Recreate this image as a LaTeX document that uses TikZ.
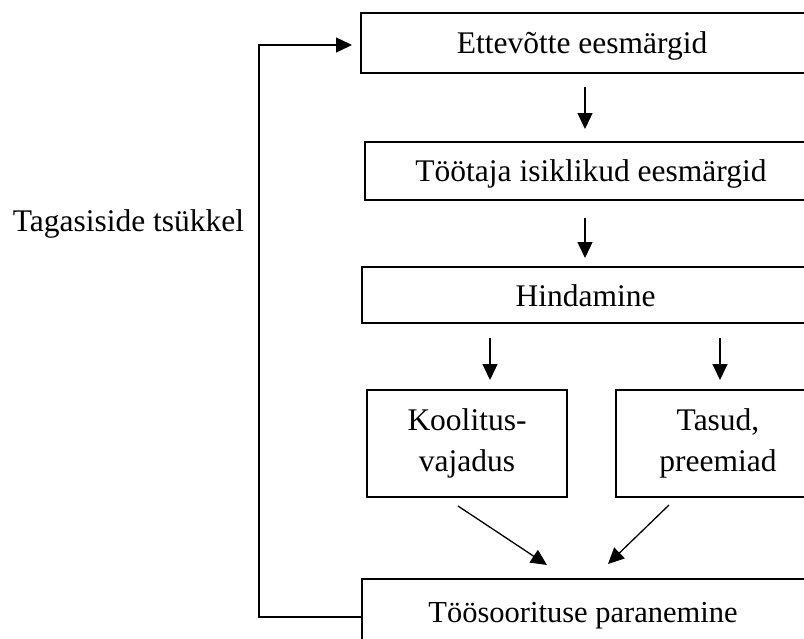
\documentclass[tikz,border=0pt]{standalone}
\usepackage{fontspec}
\setmainfont{Liberation Serif}
\usetikzlibrary{arrows.meta,calc}
\begin{document}
\begin{tikzpicture}[x=1pt,y=-1pt,
  box/.style={draw, line width=2pt, rectangle, inner sep=0pt},
  txt/.style={font=\fontsize{31.5}{41.5}\selectfont, inner sep=0pt, anchor=base},
  twoline/.style={font=\fontsize{31.5}{41.5}\selectfont, align=center},
  arr/.style={line width=1.3pt, -{Triangle[length=16pt,width=15pt]}},
  fbline/.style={line width=1.5pt, -{Triangle[length=16pt,width=15pt]}}]
\clip (0,0) rectangle (804,638);
% boxes
\node[box, minimum width=469pt, minimum height=60pt] (b1) at (595.5,43) {};
\node[box, minimum width=465pt, minimum height=58pt] (b2) at (597.5,171) {};
\node[box, minimum width=468pt, minimum height=56pt] (b3) at (596,295) {};
\node[box, twoline, minimum width=200pt, minimum height=107pt] (b4) at (467,443.5) {Koolitus-\\vajadus};
\node[box, twoline, minimum width=204pt, minimum height=107pt] (b5) at (718,443.5) {Tasud,\\preemiad};
\node[box, minimum width=468pt, minimum height=76pt] (b6) at (596,617) {};
% texts
\node[txt] (t1) at (582,53.3) {Ettevõtte eesmärgid};
\node[txt] (t2) at (591,181) {Töötaja isiklikud eesmärgid};
\node[txt] (t3) at (585.5,306) {Hindamine};
\node[txt, font=\fontsize{30.5}{36}\selectfont] (t6) at (583,622.7) {Töösoorituse paranemine};
\node[txt] (tl) at (128.5,231.7) {Tagasiside tsükkel};
% vertical arrows
\coordinate (cx1) at (585,0);
\coordinate (cx2) at (490,0);
\coordinate (cx3) at (720,0);
\draw[arr, shorten <=13pt, shorten >=12pt] (b1.south -| cx1) -- (b2.north -| cx1);
\draw[arr, shorten <=17pt, shorten >=8pt] (b2.south -| cx1) -- (b3.north -| cx1);
\draw[arr, shorten <=14pt, shorten >=9pt] (b3.south -| cx2) -- (b4.north -| cx2);
\draw[arr, shorten <=14pt, shorten >=9pt] (b3.south -| cx3) -- (b5.north -| cx3);
% diagonal arrows
\draw[arr] ([shift={(-9,8)}]b4.south) -- ([shift={(-49,-13)}]b6.north);
\draw[arr] ([shift={(-49,7)}]b5.south) -- ([shift={(12,-14)}]b6.north);
% feedback loop
\coordinate (fb) at (259,45);
\draw[fbline, shorten >=8pt] (b6.west) -- (b6.west -| fb) -- (fb) -- (b1.west |- fb);
\end{tikzpicture}
\end{document}
